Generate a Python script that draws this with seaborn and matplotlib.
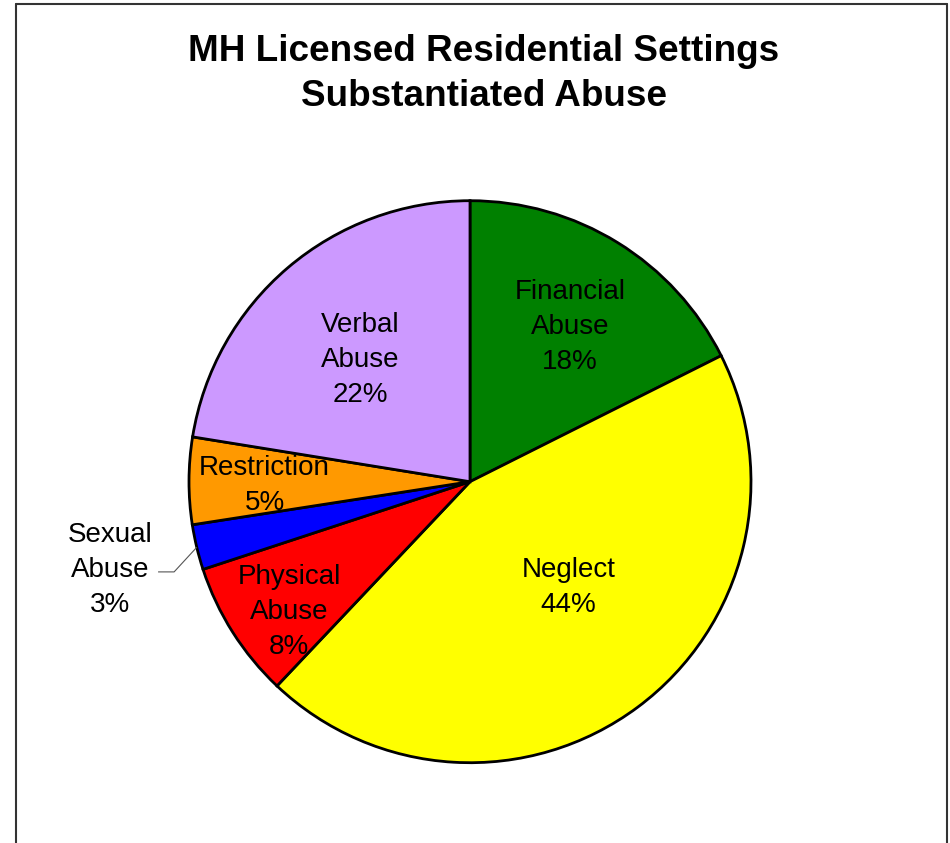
import numpy as np
import matplotlib
matplotlib.use("Agg")
import matplotlib.pyplot as plt
from matplotlib.lines import Line2D
import seaborn as sns

# ---- data ----
categories = ["Financial\nAbuse", "Neglect", "Physical\nAbuse", "Sexual\nAbuse", "Restriction", "Verbal\nAbuse"]
shares = [17.6, 44.45, 7.9, 2.6, 5.0, 22.45]
title_text = "MH Licensed Residential Settings\nSubstantiated Abuse"

# ---- styles ----
colors = ["#008000", "#FFFF00", "#FF0000", "#0000FF", "#FF9900", "#CC99FF"]
# label centres in pie-radius units
label_pos = [(0.356, 0.552), (0.351, -0.375), (-0.644, -0.465),
             (-1.281, -0.316), (-0.731, -0.012), (-0.391, 0.433)]

sns.set_theme(style="white")
plt.rcParams["font.family"] = ["Liberation Sans", "DejaVu Sans"]
plt.rcParams["text.color"] = "black"

W, H, DPI = 950, 843, 100
fig = plt.figure(figsize=(W / DPI, H / DPI), dpi=DPI)
fig.patch.set_facecolor("white")

cx, cy, R = 470.0, 481.7, 281.0
ax = fig.add_axes([0, 0, 1, 1])
wedges, _ = ax.pie(shares, colors=colors, startangle=90, counterclock=False,
                   radius=1.0,
                   wedgeprops=dict(edgecolor="black", linewidth=2.0))
ax.set_xlim(-cx / R, (W - cx) / R)
ax.set_ylim(-(H - cy) / R, cy / R)
ax.set_aspect("auto")
ax.axis("off")

for i, (cat, v) in enumerate(zip(categories, shares)):
    x, y = label_pos[i]
    ax.text(x, y, f"{cat}\n{v:.0f}%", ha="center", va="center",
            fontsize=20, linespacing=1.45, color="black")

# leader line for the small "Sexual Abuse" slice
w = wedges[3]
mid = np.deg2rad((w.theta1 + w.theta2) / 2)
ex, ey = np.cos(mid) * 1.0, np.sin(mid) * 1.0
lx, ly = label_pos[3]
ax.plot([lx + 0.171, lx + 0.228, ex], [ly - 0.005, ly - 0.005, ey],
        color="#555555", linewidth=0.8, solid_capstyle="butt")

# title
fig.text(484 / W, 1 - 74 / H, title_text, ha="center", va="center",
         fontsize=26.6, fontweight="bold", linespacing=1.38, color="black")

# outer frame (bottom edge is cut off in the reference)
fx0, fx1, fy0 = 16 / W, 947 / W, 1 - 3.5 / H
for xs, ys in [([fx0, fx0], [0, fy0]), ([fx0, fx1], [fy0, fy0]), ([fx1, fx1], [fy0, 0])]:
    fig.add_artist(Line2D(xs, ys, transform=fig.transFigure, color="#333333", linewidth=1.5))

fig.savefig("out.png", dpi=DPI)
